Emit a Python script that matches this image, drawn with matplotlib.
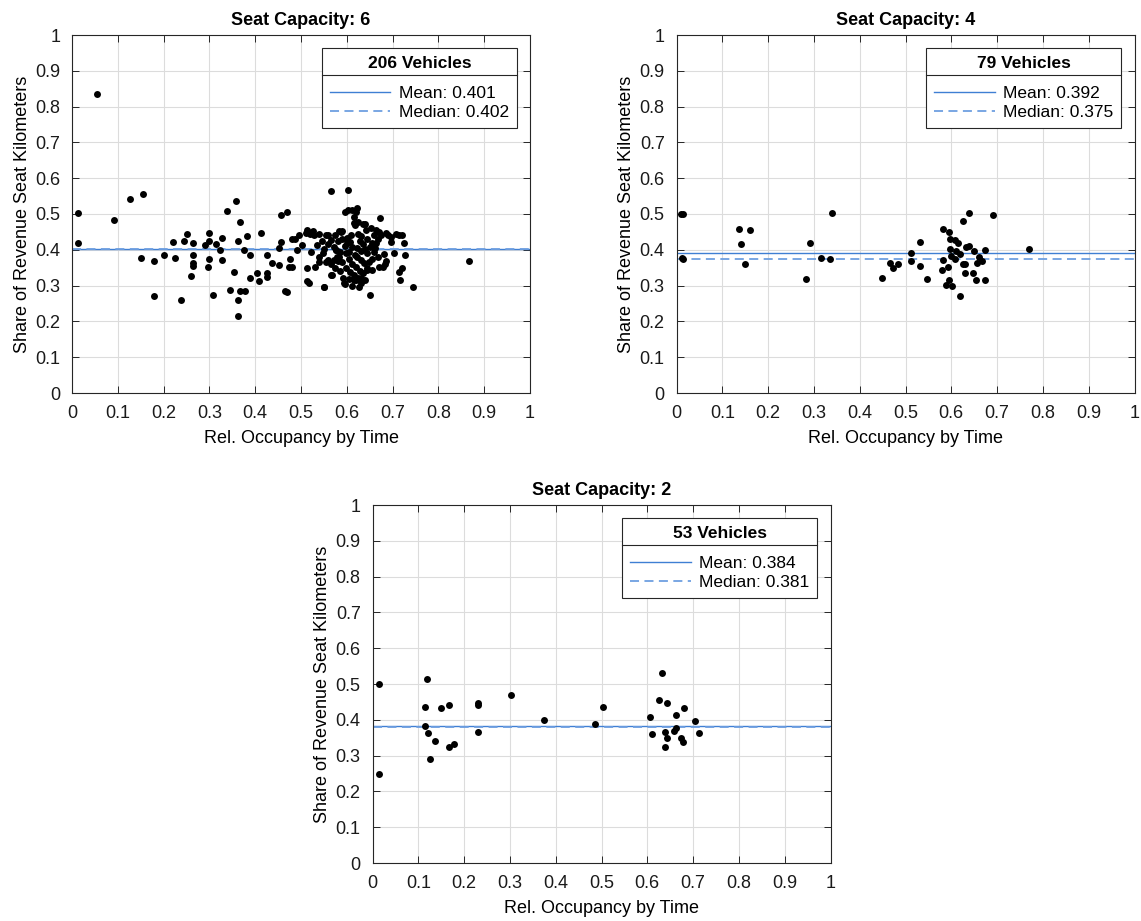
import numpy as np
import matplotlib.pyplot as plt
from matplotlib.lines import Line2D

plt.rcParams['font.family'] = ['Liberation Sans', 'DejaVu Sans']

# --- data --------------------------------------------------------------
tick_vals = [0, 0.1, 0.2, 0.3, 0.4, 0.5, 0.6, 0.7, 0.8, 0.9, 1]
tick_labels = ['0', '0.1', '0.2', '0.3', '0.4', '0.5', '0.6', '0.7', '0.8', '0.9', '1']

# seat capacity 6  (206 vehicles)
cap6_pts = [
    (0.055, 0.835), (0.013, 0.502), (0.013, 0.418), (0.091, 0.483), (0.126, 0.543),
    (0.154, 0.557), (0.150, 0.378), (0.178, 0.370), (0.178, 0.271), (0.201, 0.385),
    (0.221, 0.422), (0.225, 0.378), (0.237, 0.260), (0.245, 0.425), (0.252, 0.444),
    (0.260, 0.327), (0.264, 0.418), (0.264, 0.385), (0.264, 0.362), (0.264, 0.355),
    (0.290, 0.413), (0.299, 0.446), (0.299, 0.425), (0.299, 0.374), (0.296, 0.353),
    (0.307, 0.274), (0.315, 0.415), (0.323, 0.399), (0.327, 0.432), (0.327, 0.372),
    (0.338, 0.509), (0.346, 0.287), (0.354, 0.337), (0.359, 0.537), (0.362, 0.424),
    (0.362, 0.260), (0.362, 0.215), (0.367, 0.477), (0.367, 0.284), (0.378, 0.284),
    (0.375, 0.399), (0.382, 0.439), (0.389, 0.385), (0.389, 0.320), (0.405, 0.334),
    (0.409, 0.312), (0.412, 0.448), (0.425, 0.385), (0.425, 0.334), (0.425, 0.323),
    (0.436, 0.364), (0.452, 0.358), (0.452, 0.406), (0.456, 0.497), (0.469, 0.505),
    (0.457, 0.421), (0.465, 0.286), (0.469, 0.282), (0.473, 0.353), (0.481, 0.353),
    (0.476, 0.374), (0.480, 0.430), (0.486, 0.430), (0.492, 0.399), (0.496, 0.441),
    (0.503, 0.414), (0.510, 0.446), (0.514, 0.350), (0.514, 0.313), (0.514, 0.455),
    (0.525, 0.451), (0.520, 0.444), (0.527, 0.453), (0.529, 0.441), (0.539, 0.381),
    (0.545, 0.425), (0.551, 0.296), (0.555, 0.441), (0.555, 0.367), (0.566, 0.564),
    (0.565, 0.427), (0.566, 0.330), (0.572, 0.409), (0.577, 0.399), (0.583, 0.452),
    (0.589, 0.452), (0.572, 0.372), (0.578, 0.380), (0.580, 0.368), (0.595, 0.304),
    (0.595, 0.506), (0.603, 0.510), (0.612, 0.511), (0.620, 0.505), (0.623, 0.516),
    (0.603, 0.566), (0.616, 0.492), (0.616, 0.474), (0.618, 0.468), (0.625, 0.478),
    (0.635, 0.471), (0.640, 0.472), (0.652, 0.460), (0.663, 0.456), (0.670, 0.451),
    (0.673, 0.489), (0.650, 0.274), (0.681, 0.388), (0.685, 0.370), (0.670, 0.353),
    (0.678, 0.353), (0.684, 0.360), (0.707, 0.445), (0.714, 0.441), (0.721, 0.440),
    (0.697, 0.421), (0.704, 0.392), (0.725, 0.420), (0.728, 0.385), (0.714, 0.339),
    (0.720, 0.348), (0.717, 0.316), (0.744, 0.295), (0.866, 0.368), (0.620, 0.316),
    (0.625, 0.320), (0.630, 0.322), (0.640, 0.317), (0.550, 0.401), (0.558, 0.372),
    (0.587, 0.451), (0.601, 0.432), (0.608, 0.423), (0.612, 0.409), (0.576, 0.399),
    (0.583, 0.381), (0.590, 0.367), (0.598, 0.390), (0.605, 0.375), (0.612, 0.360),
    (0.618, 0.385), (0.598, 0.348), (0.608, 0.339), (0.568, 0.330), (0.518, 0.308),
    (0.550, 0.295), (0.594, 0.306), (0.616, 0.316), (0.625, 0.445), (0.632, 0.438),
    (0.628, 0.425), (0.636, 0.415), (0.622, 0.405), (0.630, 0.398), (0.640, 0.402),
    (0.645, 0.390), (0.622, 0.380), (0.630, 0.372), (0.638, 0.362), (0.645, 0.350),
    (0.620, 0.352), (0.628, 0.342), (0.636, 0.335), (0.615, 0.330), (0.645, 0.430),
    (0.655, 0.420), (0.650, 0.408), (0.660, 0.395), (0.655, 0.375), (0.648, 0.365),
    (0.656, 0.344), (0.645, 0.344), (0.664, 0.420), (0.668, 0.430), (0.662, 0.405),
    (0.668, 0.380), (0.675, 0.440), (0.685, 0.448), (0.690, 0.442), (0.696, 0.435),
    (0.660, 0.440), (0.642, 0.455), (0.610, 0.440), (0.600, 0.420), (0.605, 0.395),
    (0.595, 0.412), (0.590, 0.430), (0.585, 0.395), (0.580, 0.425), (0.575, 0.440),
    (0.560, 0.440), (0.565, 0.360), (0.575, 0.350), (0.585, 0.340), (0.592, 0.322),
    (0.605, 0.318), (0.612, 0.300), (0.630, 0.308), (0.626, 0.296), (0.536, 0.413),
    (0.540, 0.445), (0.560, 0.415), (0.548, 0.390), (0.540, 0.365), (0.530, 0.352),
    (0.522, 0.395),
]

# seat capacity 4  (79 vehicles)
cap4_pts = [
    (0.010, 0.501), (0.015, 0.501), (0.011, 0.376), (0.015, 0.374), (0.137, 0.458),
    (0.141, 0.415), (0.150, 0.361), (0.160, 0.454), (0.283, 0.319), (0.292, 0.419),
    (0.316, 0.377), (0.335, 0.375), (0.339, 0.504), (0.449, 0.321), (0.467, 0.363),
    (0.472, 0.349), (0.483, 0.361), (0.511, 0.391), (0.512, 0.369), (0.531, 0.421),
    (0.531, 0.354), (0.547, 0.319), (0.579, 0.344), (0.582, 0.457), (0.581, 0.372),
    (0.588, 0.302), (0.594, 0.450), (0.592, 0.353), (0.596, 0.316), (0.598, 0.430),
    (0.598, 0.403), (0.599, 0.382), (0.602, 0.298), (0.608, 0.426), (0.615, 0.420),
    (0.608, 0.374), (0.610, 0.398), (0.618, 0.387), (0.619, 0.270), (0.625, 0.359),
    (0.631, 0.359), (0.626, 0.480), (0.630, 0.335), (0.633, 0.407), (0.638, 0.410),
    (0.638, 0.502), (0.647, 0.335), (0.650, 0.397), (0.654, 0.316), (0.657, 0.364),
    (0.661, 0.381), (0.666, 0.369), (0.673, 0.399), (0.673, 0.316), (0.690, 0.497),
    (0.769, 0.403),
]

# seat capacity 2  (53 vehicles)
cap2_pts = [
    (0.014, 0.500), (0.014, 0.250), (0.118, 0.513), (0.114, 0.435), (0.114, 0.382),
    (0.122, 0.364), (0.126, 0.290), (0.137, 0.340), (0.149, 0.432), (0.166, 0.441),
    (0.168, 0.323), (0.177, 0.332), (0.231, 0.446), (0.231, 0.440), (0.231, 0.367),
    (0.303, 0.468), (0.374, 0.400), (0.485, 0.387), (0.504, 0.437), (0.633, 0.532),
    (0.626, 0.456), (0.643, 0.447), (0.606, 0.409), (0.662, 0.414), (0.681, 0.433),
    (0.705, 0.396), (0.611, 0.361), (0.639, 0.367), (0.658, 0.370), (0.663, 0.376),
    (0.643, 0.348), (0.639, 0.325), (0.673, 0.348), (0.677, 0.337), (0.713, 0.363),
]

capacities = [6, 4, 2]
vehicle_counts = [206, 79, 53]
mean_vals = [0.401, 0.392, 0.384]
median_vals = [0.402, 0.375, 0.381]
panel_points = [cap6_pts, cap4_pts, cap2_pts]

# --- layout (figure fractions) -----------------------------------------
W, H = 1141, 921
axes_px = [(72, 35), (676.5, 35), (372.5, 505)]   # left, top in pixels
AX_W, AX_H = 458, 358

fig = plt.figure(figsize=(W / 100, H / 100), dpi=100)

mean_c = '#3f7fd3'
median_c = '#6e9fe0'
edge_c = '#262626'

legends = []
for (lx, ty), cap, n, mu, med, pts in zip(axes_px, capacities, vehicle_counts,
                                          mean_vals, median_vals, panel_points):
    ax = fig.add_axes([lx / W, 1 - (ty + AX_H) / H, AX_W / W, AX_H / H])
    arr = np.array(pts)
    ax.scatter(arr[:, 0], arr[:, 1], s=25, color='black', zorder=3, lw=0)
    ax.axhline(mu, color=mean_c, lw=1.0, label=f'Mean: {mu:.3f}', zorder=2)
    ax.axhline(med, color=median_c, lw=1.3, ls=(0, (5, 3)),
               label=f'Median: {med:.3f}', zorder=2)

    ax.set_xlim(0, 1)
    ax.set_ylim(0, 1)
    ax.set_xticks(tick_vals)
    ax.set_xticklabels(tick_labels)
    ax.set_yticks(tick_vals)
    ax.set_yticklabels(tick_labels)
    ax.tick_params(direction='in', length=5, width=0.7, colors=edge_c,
                   labelsize=13, top=True, right=True, pad=8.5)
    ax.tick_params(labelcolor='#1a1a1a')
    for sp in ax.spines.values():
        sp.set_color(edge_c)
        sp.set_linewidth(0.8)
    ax.grid(True, color='#dcdcdc', lw=0.8)
    ax.set_axisbelow(True)

    ax.set_title(f'Seat Capacity: {cap}', fontsize=13, fontweight='bold', pad=7)
    ax.set_xlabel('Rel. Occupancy by Time', fontsize=13, labelpad=6)
    ax.set_ylabel('Share of Revenue Seat Kilometers', fontsize=13, labelpad=3)

    leg = ax.legend(loc='upper right', fontsize=12.5, title=f'{n} Vehicles',
                    title_fontproperties={'weight': 'bold', 'size': 12.5},
                    fancybox=False, framealpha=1, edgecolor=edge_c,
                    handlelength=3.5, borderaxespad=0.75, borderpad=0.45,
                    labelspacing=0.22, handletextpad=0.5)
    leg._legend_box.sep = 11         # room under the title for the divider
    leg.get_frame().set_linewidth(0.8)
    legends.append(leg)

# separator line between legend title and entries (MATLAB style)
fig.canvas.draw()
inv = fig.transFigure.inverted()
for leg in legends:
    fb = leg.get_frame().get_window_extent()
    tb = leg.get_title().get_window_extent()
    y = tb.y0 - 4.5
    (x0, yf), (x1, _) = inv.transform([(fb.x0, y), (fb.x1, y)])
    fig.add_artist(Line2D([x0, x1], [yf, yf], color=edge_c, lw=0.8,
                          transform=fig.transFigure))

fig.savefig('out.png', dpi=100)
